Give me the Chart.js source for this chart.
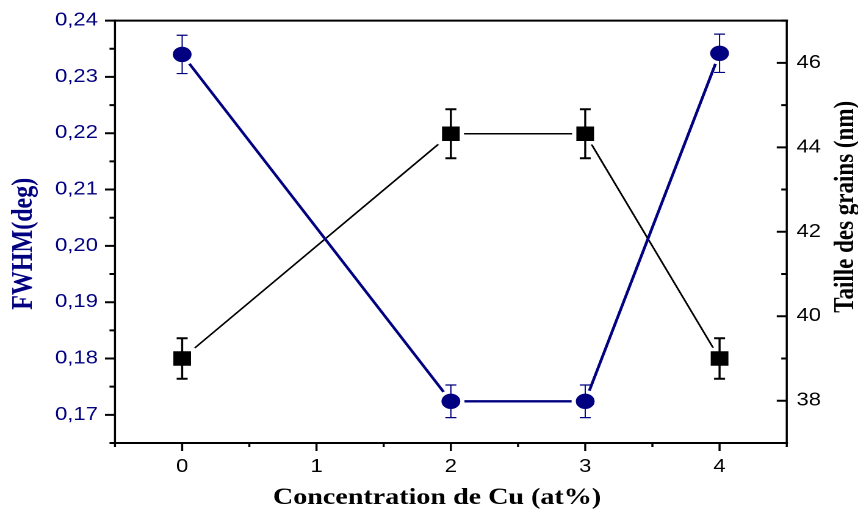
<!DOCTYPE html>
<html>
<head>
<meta charset="utf-8">
<script src="https://cdn.jsdelivr.net/npm/chart.js@4.4.1/dist/chart.umd.min.js"></script>
<style>
  html, body { margin: 0; padding: 0; background: #fff; overflow: hidden; }
  /* the plot is laid out on a narrower canvas and widened horizontally */
  #wrap { width: 703px; height: 510px; transform: scaleX(1.2205); transform-origin: 0 0; }
  canvas { display: block; }
</style>
</head>
<body>
<div id="wrap"><canvas id="c" width="703" height="510"></canvas></div>
<script>
// Cu concentration (at%)
const concentration = [0, 2, 3, 4];
// FWHM of the main peak (deg) and its error
const fwhm = [0.2340, 0.1724, 0.1724, 0.2342];
const fwhmErr = [0.0034, 0.0029, 0.0029, 0.0034];
// Grain size (nm) and its error
const grainSize = [39.0, 44.32, 44.32, 39.0];
const grainSizeErr = [0.48, 0.58, 0.58, 0.48];

// Axis ticks
const xTicks = [0, 1, 2, 3, 4];
const xMinor = [-0.5, 0.5, 1.5, 2.5, 3.5, 4.5];
const fwhmTicks = [0.17, 0.18, 0.19, 0.20, 0.21, 0.22, 0.23, 0.24];
const fwhmMinor = [0.165, 0.175, 0.185, 0.195, 0.205, 0.215, 0.225, 0.235];
const sizeTicks = [38, 40, 42, 44, 46];
const sizeMinor = [37, 39, 41, 43, 45, 47];

const xTitle = 'Concentration de Cu (at%)';
const leftTitle = 'FWHM(deg)';
const rightTitle = 'Taille des grains (nm)';

const NAVY = '#000080';
const BLACK = '#000000';
const SANS = 'Liberation Sans, Arial, sans-serif';
const SERIF = 'Liberation Serif, Times New Roman, serif';

function setTicks(values) {
  return scale => { scale.ticks = values.map(v => ({ value: v })); };
}

// Frame and tick marks (left/bottom outward, right inward)
const framePlugin = {
  id: 'frame',
  beforeDatasetsDraw(chart) {
    const { ctx, chartArea: a, scales } = chart;
    ctx.save();
    ctx.strokeStyle = BLACK;
    ctx.lineCap = 'square';
    // horizontal edges
    ctx.lineWidth = 2;
    ctx.beginPath();
    ctx.moveTo(a.left, a.top); ctx.lineTo(a.right, a.top);
    ctx.moveTo(a.left, a.bottom); ctx.lineTo(a.right, a.bottom);
    ctx.stroke();
    // vertical edges
    ctx.lineWidth = 1.7;
    ctx.beginPath();
    ctx.moveTo(a.left, a.top); ctx.lineTo(a.left, a.bottom);
    ctx.moveTo(a.right, a.top); ctx.lineTo(a.right, a.bottom);
    ctx.stroke();
    ctx.lineCap = 'butt';
    // x ticks
    ctx.lineWidth = 1.7;
    ctx.beginPath();
    xTicks.forEach(v => { const p = scales.x.getPixelForValue(v); ctx.moveTo(p, a.bottom); ctx.lineTo(p, a.bottom + 8); });
    xMinor.forEach(v => { const p = scales.x.getPixelForValue(v); ctx.moveTo(p, a.bottom); ctx.lineTo(p, a.bottom + 4); });
    ctx.stroke();
    // left y ticks
    ctx.lineWidth = 2;
    ctx.beginPath();
    fwhmTicks.forEach(v => { const p = scales.y.getPixelForValue(v); ctx.moveTo(a.left, p); ctx.lineTo(a.left - 8.2, p); });
    fwhmMinor.forEach(v => { const p = scales.y.getPixelForValue(v); ctx.moveTo(a.left, p); ctx.lineTo(a.left - 4.5, p); });
    // right y ticks (inward)
    sizeTicks.forEach(v => { const p = scales.y2.getPixelForValue(v); ctx.moveTo(a.right, p); ctx.lineTo(a.right - 8.2, p); });
    sizeMinor.forEach(v => { const p = scales.y2.getPixelForValue(v); ctx.moveTo(a.right, p); ctx.lineTo(a.right - 4.5, p); });
    ctx.stroke();
    ctx.restore();
  }
};

// Vertical error bars with caps
const errorBarPlugin = {
  id: 'errorBars',
  afterDatasetsDraw(chart) {
    const { ctx } = chart;
    chart.data.datasets.forEach((ds, i) => {
      const meta = chart.getDatasetMeta(i);
      const ys = chart.scales[ds.yAxisID];
      ctx.save();
      ctx.strokeStyle = ds.borderColor;
      meta.data.forEach((pt, j) => {
        const v = ds.data[j].y, e = ds.errors[j];
        const yTop = ys.getPixelForValue(v + e);
        const yBot = ys.getPixelForValue(v - e);
        const x = pt.x;
        ctx.lineWidth = ds.errStemWidth;
        ctx.beginPath();
        ctx.moveTo(x, yTop); ctx.lineTo(x, yBot);
        ctx.stroke();
        ctx.lineWidth = ds.errCapWidth;
        ctx.beginPath();
        ctx.moveTo(x - 4.5, yTop); ctx.lineTo(x + 4.5, yTop);
        ctx.moveTo(x - 4.5, yBot); ctx.lineTo(x + 4.5, yBot);
        ctx.stroke();
      });
      ctx.restore();
    });
  }
};

// Axis titles
const titlePlugin = {
  id: 'axisTitles',
  afterDraw(chart) {
    const { ctx, chartArea: a } = chart;
    ctx.save();
    ctx.textAlign = 'center';
    ctx.textBaseline = 'alphabetic';
    ctx.fillStyle = BLACK;
    ctx.font = 'bold 23px ' + SERIF;
    ctx.fillText(xTitle, (a.left + a.right) / 2 - 11.3, a.bottom + 61);

    ctx.save();
    ctx.translate(26, (a.top + a.bottom) / 2 + 12);
    ctx.rotate(-Math.PI / 2);
    ctx.fillStyle = NAVY;
    ctx.font = 'bold 24px ' + SERIF;
    ctx.fillText(leftTitle, 0, 0);
    ctx.restore();

    ctx.save();
    ctx.translate(chart.width - 4, (a.top + a.bottom) / 2 - 25);
    ctx.rotate(-Math.PI / 2);
    ctx.fillStyle = BLACK;
    ctx.font = 'bold 23px ' + SERIF;
    ctx.fillText(rightTitle, 0, 0);
    ctx.restore();
    ctx.restore();
  }
};

new Chart(document.getElementById('c'), {
  type: 'line',
  data: {
    datasets: [
      {
        label: 'FWHM',
        data: concentration.map((x, i) => ({ x, y: fwhm[i] })),
        errors: fwhmErr,
        yAxisID: 'y',
        borderColor: NAVY,
        borderWidth: 2.4,
        pointStyle: 'circle',
        pointRadius: 9.45,
        pointBorderWidth: 3.5,
        pointBorderColor: '#ffffff',
        pointBackgroundColor: NAVY,
        errStemWidth: 1,
        errCapWidth: 1.2,
        tension: 0
      },
      {
        label: 'Taille des grains',
        data: concentration.map((x, i) => ({ x, y: grainSize[i] })),
        errors: grainSizeErr,
        yAxisID: 'y2',
        borderColor: BLACK,
        borderWidth: 1.5,
        pointStyle: 'rect',
        pointRadius: 12.73,
        pointBorderWidth: 3.5,
        pointBorderColor: '#ffffff',
        pointBackgroundColor: BLACK,
        errStemWidth: 1.7,
        errCapWidth: 2,
        tension: 0
      }
    ]
  },
  options: {
    responsive: false,
    animation: false,
    devicePixelRatio: 2,
    layout: { padding: { top: 20.6, left: 0, right: 0, bottom: 0 } },
    plugins: { legend: { display: false }, tooltip: { enabled: false } },
    scales: {
      x: {
        type: 'linear',
        min: -0.5,
        max: 4.5,
        afterBuildTicks: setTicks(xTicks),
        afterFit: s => { s.height = 67; },
        border: { display: false },
        grid: { display: true, drawOnChartArea: false, drawTicks: true, tickLength: 8, tickColor: 'rgba(0,0,0,0)' },
        ticks: { autoSkip: false, maxRotation: 0, padding: 5, color: BLACK, font: { family: SANS, size: 18 }, callback: v => String(v) }
      },
      y: {
        type: 'linear',
        position: 'left',
        min: 0.165,
        max: 0.24,
        afterBuildTicks: setTicks(fwhmTicks),
        afterFit: s => { s.width = 94.2; },
        border: { display: false },
        grid: { display: true, drawOnChartArea: false, drawTicks: true, tickLength: 8, tickColor: 'rgba(0,0,0,0)' },
        ticks: { autoSkip: false, padding: 6, color: NAVY, font: { family: SANS, size: 18 }, callback: v => v.toFixed(2).replace('.', ',') }
      },
      y2: {
        type: 'linear',
        position: 'right',
        min: 37,
        max: 47,
        afterBuildTicks: setTicks(sizeTicks),
        afterFit: s => { s.width = 58.4; },
        border: { display: false },
        grid: { display: true, drawOnChartArea: false, drawTicks: true, tickLength: 0, tickColor: 'rgba(0,0,0,0)' },
        ticks: { autoSkip: false, padding: 8, color: BLACK, font: { family: SANS, size: 18 }, callback: v => String(v) }
      }
    }
  },
  plugins: [framePlugin, errorBarPlugin, titlePlugin]
});
</script>
</body>
</html>
